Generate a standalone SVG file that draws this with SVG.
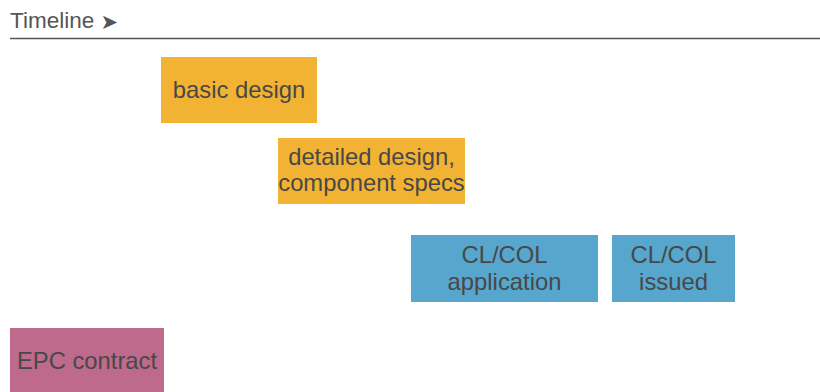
<svg xmlns="http://www.w3.org/2000/svg" width="820" height="392" viewBox="0 0 820 392">
<style>
text{font-family:"Liberation Sans",Arial,sans-serif;font-size:23.8px;fill:#484848;text-anchor:middle}
.orange{fill:#F2B233}
.blue{fill:#56A6CD}
.pink{fill:#BD6A8C}
.title{text-anchor:start;font-size:22.5px;fill:#555}
</style>
<rect width="820" height="392" fill="#fff"/>
<g id="timeline">
<text class="title" x="10" y="28">Timeline <tspan font-family="DejaVu Sans,sans-serif" font-size="21" dy="1">➤</tspan></text>
<line x1="10" y1="38.5" x2="820" y2="38.5" stroke="#555" stroke-width="1.5"/>
</g>
<g id="connectors"></g>
<g id="basic-design">
<rect class="orange" x="161" y="57" width="156" height="66"/>
<text x="239" y="98">basic design</text>
</g>
<g id="detailed-design">
<rect class="orange" x="278" y="138" width="187" height="66"/>
<text x="371.5" y="165">detailed design,</text>
<text x="371.5" y="191">component specs</text>
</g>
<g id="clcol-application">
<rect class="blue" x="411" y="235" width="187" height="67"/>
<text x="504.5" y="263">CL/COL</text>
<text x="504.5" y="290">application</text>
</g>
<g id="clcol-issued">
<rect class="blue" x="612" y="235" width="123" height="67"/>
<text x="673.5" y="263">CL/COL</text>
<text x="673.5" y="290">issued</text>
</g>
<g id="epc-contract">
<rect class="pink" x="10" y="328" width="154" height="70"/>
<text x="87" y="369">EPC contract</text>
</g>
</svg>
